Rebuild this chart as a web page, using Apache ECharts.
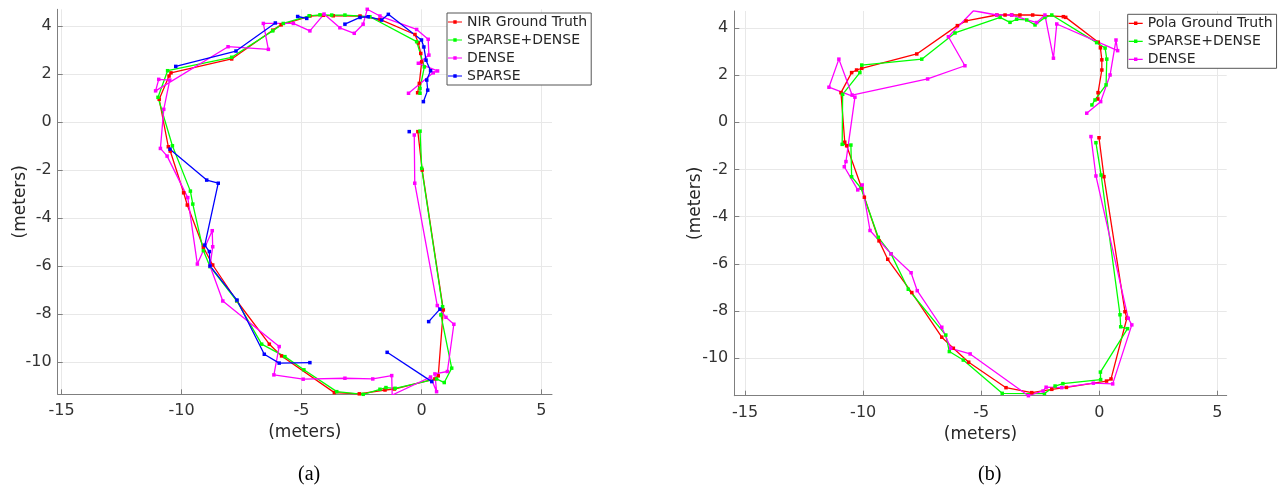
<!DOCTYPE html>
<html>
<head>
<meta charset="utf-8">
<script src="https://cdn.jsdelivr.net/npm/echarts@6/dist/echarts.min.js"></script>
<style>
html,body{margin:0;padding:0;background:#fff;}
#chart{width:1286px;height:487px;}
</style>
</head>
<body>
<div id="chart"></div>
<script>
// ---------- tick labels ----------
const xTicks = [-15, -10, -5, 0, 5];
const yTicks = [-10, -8, -6, -4, -2, 0, 2, 4];

// ---------- panel (a) ----------
const nirGroundTruth = [
  [-0.15,-0.40],[0.03,-2.00],[0.91,-7.83],[0.70,-10.58],[0.56,-10.71],[-1.13,-11.13],[-1.52,-11.17],
  [-2.59,-11.33],[-3.63,-11.28],[-5.83,-9.75],[-6.34,-9.26],[-7.70,-7.45],[-8.70,-5.96],[-9.09,-5.22],
  [-9.76,-3.46],[-9.91,-2.95],[-10.47,-1.21],[-10.55,-1.03],[-10.93,0.95],[-10.52,1.92],[-10.44,2.05],
  [-7.91,2.63],[-6.20,3.83],[-5.85,4.05],[-4.65,4.42],[-4.09,4.45],[-3.68,4.43],[-2.56,4.42],[-1.73,4.28],
  [-0.27,3.65],[-0.13,3.30],[-0.03,2.86],[0.01,2.51],[-0.09,1.61],[-0.16,1.22]
];
const sparseDenseA = [
  [-0.06,-0.38],[0.01,-1.93],[0.88,-7.70],[0.81,-8.04],[1.26,-10.26],[0.95,-10.86],[0.63,-10.71],
  [-1.10,-11.10],[-1.48,-11.07],[-1.73,-11.14],[-2.43,-11.35],[-3.53,-11.24],[-4.90,-10.33],[-5.69,-9.78],
  [-6.66,-9.26],[-7.70,-7.45],[-8.81,-6.03],[-9.09,-5.36],[-9.53,-3.42],[-9.63,-2.88],[-10.38,-0.99],
  [-10.98,1.03],[-10.58,2.14],[-7.91,2.70],[-6.20,3.80],[-5.76,4.11],[-4.68,4.43],[-4.23,4.47],[-3.74,4.46],
  [-3.19,4.46],[-2.15,4.39],[-0.20,3.35],[0.12,2.30],[-0.06,1.40],[-0.06,1.20]
];
const denseA = [
  [-0.30,-0.54],[-0.28,-2.55],[0.66,-7.65],[1.02,-8.14],[1.35,-8.43],[1.08,-10.40],[0.56,-10.50],
  [0.63,-11.24],[0.38,-10.63],[-1.22,-11.38],[-1.24,-10.57],[-2.03,-10.71],[-3.19,-10.68],[-4.93,-10.72],
  [-6.15,-10.54],[-5.93,-9.36],[-8.28,-7.46],[-8.81,-6.00],[-8.70,-5.20],[-8.72,-4.53],[-9.34,-5.92],
  [-9.74,-3.15],[-10.60,-1.42],[-10.88,-1.10],[-10.74,0.53],[-10.49,1.75],[-10.95,1.78],[-11.08,1.30],
  [-8.06,3.14],[-6.38,3.03],[-6.59,4.11],[-5.34,4.11],[-4.65,3.80],[-4.06,4.50],[-3.40,3.93],[-2.80,3.70],
  [-2.43,4.08],[-2.26,4.70],[-1.73,4.42],[-0.20,3.86],[0.28,3.45],[0.31,2.79],[-0.13,2.45],[0.67,2.13],
  [0.49,2.05],[-0.54,1.20]
];
const sparseA = [
  [[-0.51,-0.40]],
  [[0.30,-8.32],[0.77,-7.80]],
  [[-1.43,-9.60],[0.43,-10.82]],
  [[-4.65,-10.03],[-5.93,-10.05],[-6.55,-9.68],[-7.69,-7.42],[-8.81,-6.00],[-8.84,-5.40],[-9.03,-5.13],
   [-8.47,-2.55],[-8.95,-2.42],[-10.48,-1.13]],
  [[-10.24,2.32],[-7.73,2.96],[-6.09,4.13]],
  [[-5.16,4.40],[-4.78,4.32]],
  [[-3.19,4.08],[-2.56,4.36],[-2.22,4.39],[-1.66,4.25],[-1.38,4.49],[0.00,3.42],[0.10,3.13],[0.19,2.58],
   [0.38,2.14],[0.22,1.75],[0.26,1.33],[0.08,0.85]]
];

// ---------- panel (b) ----------
const polaGroundTruth = [
  [-0.01,-0.66],[0.20,-2.31],[1.09,-8.03],[1.17,-8.31],[0.50,-10.88],[0.31,-10.97],[-1.39,-11.24],
  [-2.01,-11.32],[-2.86,-11.46],[-3.95,-11.25],[-5.53,-10.17],[-6.18,-9.58],[-6.67,-9.11],[-7.94,-7.22],
  [-8.96,-5.81],[-9.33,-5.03],[-9.95,-3.18],[-10.06,-2.80],[-10.70,-1.00],[-10.78,-0.85],[-10.94,1.25],
  [-10.49,2.10],[-10.28,2.21],[-10.06,2.28],[-7.73,2.89],[-6.01,4.09],[-5.64,4.29],[-4.34,4.54],[-3.99,4.54],
  [-3.71,4.54],[-3.36,4.54],[-2.82,4.54],[-1.52,4.47],[-1.42,4.44],[-0.04,3.39],[0.05,3.15],[0.11,2.64],
  [0.11,2.21],[-0.05,1.25],[-0.06,0.98]
];
const sparseDenseB = [
  [-0.14,-0.87],[0.08,-2.24],[0.88,-8.16],[0.91,-8.67],[1.20,-8.75],[0.05,-10.59],[0.06,-10.91],
  [-1.54,-11.08],[-1.87,-11.18],[-2.32,-11.50],[-4.11,-11.49],[-5.76,-10.08],[-6.35,-9.72],[-6.50,-9.02],
  [-8.09,-7.08],[-8.82,-5.58],[-9.36,-4.88],[-10.09,-2.80],[-10.49,-2.31],[-10.52,-0.97],[-10.89,-0.94],
  [-10.87,1.18],[-10.14,2.10],[-10.06,2.42],[-7.52,2.67],[-6.11,3.78],[-4.20,4.44],[-3.78,4.23],[-3.50,4.36],
  [-3.07,4.33],[-2.72,4.12],[-2.30,4.44],[-2.01,4.54],[-0.11,3.37],[0.25,3.14],[0.32,2.67],[0.29,1.58],
  [-0.18,0.94],[-0.31,0.73]
];
const denseB = [
  [-0.35,-0.61],[-0.14,-2.28],[1.23,-8.31],[1.38,-8.59],[0.57,-11.09],[-0.25,-11.06],[-1.59,-11.25],
  [-2.25,-11.23],[-2.38,-11.39],[-3.00,-11.59],[-5.47,-9.82],[-6.29,-9.58],[-6.67,-8.69],[-7.71,-7.14],
  [-7.97,-6.38],[-8.82,-5.58],[-9.71,-4.59],[-10.04,-2.66],[-10.23,-2.87],[-10.80,-1.89],[-10.73,-1.67],
  [-10.35,1.06],[-11.45,1.48],[-11.03,2.67],[-10.47,1.15],[-7.27,1.83],[-5.69,2.39],[-6.39,3.62],[-5.33,4.72],
  [-4.34,4.54],[-3.71,4.54],[-2.65,4.22],[-2.30,4.54],[-1.94,2.71],[-1.80,4.16],[0.78,3.03],[0.71,3.48],
  [0.46,2.00],[0.06,0.87],[-0.53,0.38]
];

// ---------- chart ----------
const FONT = 'DejaVu Sans';
const C = {red:'#ff0000', green:'#00ff00', magenta:'#ff00ff', blue:'#0000ff'};
// legend sample: short line with a small square marker (box padded to 14x14)
const LEGEND_ICON = 'path://M0,6.4H14V7.6H0Z M5.3,5.3H8.7V8.7H5.3Z M0,0H0.01V0.01H0Z M13.99,13.99H14V14H13.99Z';

function axisX(gridIndex, min, max){
  return {
    type:'value', gridIndex, min, max,
    name:'(meters)', nameLocation:'middle', nameGap:30, nameMoveOverlap:false,
    nameTextStyle:{fontFamily:FONT, fontSize:17, color:'#262626'},
    axisLine:{show:true, onZero:false, lineStyle:{color:'#7f7f7f', width:1}},
    axisTick:{show:true, inside:true, length:5, lineStyle:{color:'#7f7f7f'}, customValues:xTicks},
    axisLabel:{fontFamily:FONT, fontSize:16, color:'#333', margin:9, customValues:xTicks},
    splitLine:{show:true, lineStyle:{color:'#e8e8e8', width:1}}
  };
}
function axisY(gridIndex, min, max, gap){
  return {
    type:'value', gridIndex, min, max,
    name:'(meters)', nameLocation:'middle', nameGap:gap, nameMoveOverlap:false,
    nameTextStyle:{fontFamily:FONT, fontSize:17, color:'#262626'},
    axisLine:{show:true, onZero:false, lineStyle:{color:'#7f7f7f', width:1}},
    axisTick:{show:true, inside:true, length:5, lineStyle:{color:'#7f7f7f'}, customValues:yTicks},
    axisLabel:{fontFamily:FONT, fontSize:16, color:'#333', margin:6, customValues:yTicks},
    splitLine:{show:true, lineStyle:{color:'#e8e8e8', width:1}}
  };
}
function line(name, data, color, xi){
  return {
    type:'line', name, data, xAxisIndex:xi, yAxisIndex:xi,
    symbol:'rect', symbolSize:3.5, showSymbol:true,
    lineStyle:{color, width:1.3}, itemStyle:{color},
    emphasis:{disabled:true}, silent:true, animation:false, z:2
  };
}

const series = [
  line('NIR Ground Truth', nirGroundTruth, C.red, 0),
  line('SPARSE+DENSE', sparseDenseA, C.green, 0),
  line('DENSE', denseA, C.magenta, 0)
];
sparseA.forEach(seg => series.push(line('SPARSE', seg, C.blue, 0)));
series.push(
  line('Pola Ground Truth', polaGroundTruth, C.red, 1),
  line('SPARSE+DENSE', sparseDenseB, C.green, 1),
  line('DENSE', denseB, C.magenta, 1)
);

const legendBase = {
  orient:'vertical', itemWidth:14, itemHeight:14, itemGap:4,
  padding:[2,4,2,1], backgroundColor:'#fff', borderColor:'#555', borderWidth:1, borderRadius:0,
  textStyle:{fontFamily:FONT, fontSize:14, color:'#262626'},
  selectedMode:false
};
const legendNamesA = ['NIR Ground Truth','SPARSE+DENSE','DENSE','SPARSE'];
const legendNamesB = ['Pola Ground Truth','SPARSE+DENSE','DENSE'];

const chart = echarts.init(document.getElementById('chart'), null, {renderer:'canvas'});
chart.setOption({
  animation:false,
  backgroundColor:'#fff',
  grid:[
    {left:57.7, top:9.3, width:494.3, height:385},
    {left:734.3, top:11, width:492.4, height:384.7}
  ],
  xAxis:[axisX(0,-15.16,5.44), axisX(1,-15.46,5.40)],
  yAxis:[axisY(0,-11.35,4.70,29), axisY(1,-11.59,4.71,30)],
  legend:[
    Object.assign({}, legendBase, {left:447, top:13, data:legendNamesA.map(n => ({name:n, icon:LEGEND_ICON}))}),
    Object.assign({}, legendBase, {left:1127.7, top:14.3, data:legendNamesB.map(n => ({name:n, icon:LEGEND_ICON}))})
  ],
  graphic:[
    {type:'text', left:298, top:465, style:{text:'(a)', font:'20px "Liberation Serif"', fill:'#000'}},
    {type:'text', left:978, top:465, style:{text:'(b)', font:'20px "Liberation Serif"', fill:'#000'}}
  ],
  series
});
</script>
</body>
</html>
